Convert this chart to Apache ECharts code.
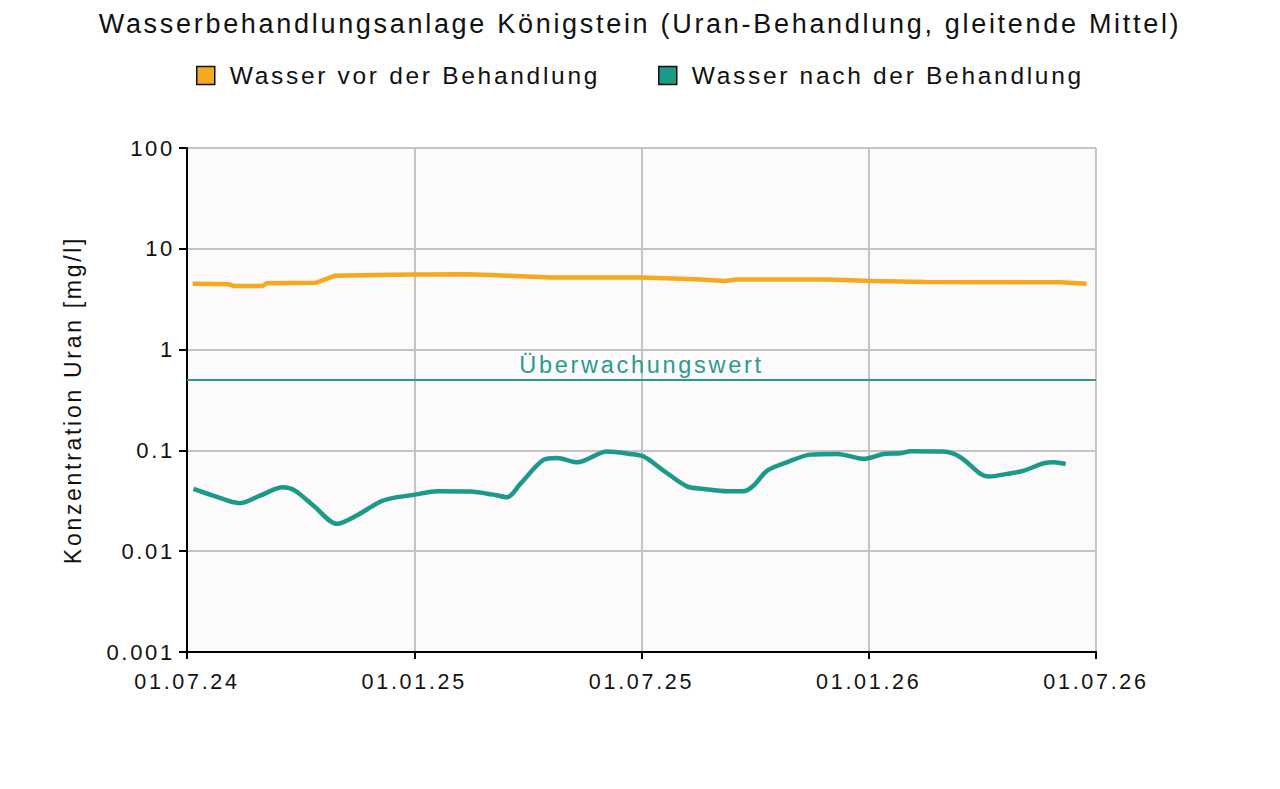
<!DOCTYPE html>
<html>
<head>
<meta charset="utf-8">
<script src="https://cdn.jsdelivr.net/npm/echarts@6/dist/echarts.min.js"></script>
<style>
html,body{margin:0;padding:0;background:#fff;}
#main{width:1280px;height:789px;}
#main text{letter-spacing:2.7px;}
</style>
</head>
<body>
<div id="main"></div>
<script>
// months since 01.07.24
const xTickLabels = ['01.07.24','01.01.25','01.07.25','01.01.26','01.07.26'];
const yTickLabels = {0.001:'0.001',0.01:'0.01',0.1:'0.1',1:'1',10:'10',100:'100'};
const seriesNames = ['Wasser vor der Behandlung','Wasser nach der Behandlung'];
const limitValue = 0.5;
const limitLabel = 'Überwachungswert';

const preMonths = [0.15,1.1,1.25,2.0,2.1,3.4,3.9,5.0,6.0,7.4,8.5,9.6,12.0,13.45,14.2,14.5,16.9,18.1,19.5,23.06,23.75];
const preValues = [4.49,4.45,4.27,4.27,4.55,4.6,5.4,5.5,5.55,5.6,5.4,5.2,5.2,5.0,4.8,4.95,4.95,4.8,4.68,4.65,4.5];

const postMonths = [0.17,0.69,1.40,1.93,2.54,2.85,3.34,3.96,4.48,5.10,5.45,6.02,6.60,7.48,8.09,8.45,8.80,9.41,9.77,10.30,11.09,11.70,12.06,12.58,13.20,13.64,14.26,14.70,14.96,15.32,15.84,16.46,17.17,17.87,18.40,18.84,19.10,19.98,20.42,20.95,21.17,21.66,22.10,22.62,22.89,23.20];
const postValues = [0.0415,0.0356,0.0299,0.0356,0.0430,0.0399,0.0283,0.0187,0.0226,0.0310,0.0338,0.0364,0.0393,0.0390,0.0364,0.0343,0.0465,0.0805,0.0843,0.0762,0.0973,0.0923,0.0868,0.0631,0.0440,0.0415,0.0393,0.0393,0.0448,0.0631,0.0762,0.0908,0.0923,0.0824,0.0923,0.0936,0.0980,0.0973,0.0855,0.0585,0.0550,0.0585,0.0631,0.0745,0.0762,0.0734];

const ORANGE = '#f6a81e';
const TEAL = '#1b9a8a';
const FONT = "'Liberation Sans', Arial, sans-serif";

const chart = echarts.init(document.getElementById('main'), null, {renderer:'svg'});
const txt = {fontFamily: FONT, color:'#111'};

chart.setOption({
  backgroundColor:'#ffffff',
  animation:false,
  title:{
    text:'Wasserbehandlungsanlage Königstein (Uran-Behandlung, gleitende Mittel)',
    left:'center', top:5,
    textStyle:Object.assign({}, txt, {fontSize:27, fontWeight:'normal'})
  },
  legend:[
    {data:[seriesNames[0]], left:191, top:58, icon:'rect', itemWidth:18, itemHeight:18,
     itemStyle:{borderColor:'#111', borderWidth:1.5},
     textStyle:Object.assign({}, txt, {fontSize:24.5, padding:[0,0,0,10]})},
    {data:[seriesNames[1]], left:653, top:58, icon:'rect', itemWidth:18, itemHeight:18,
     itemStyle:{borderColor:'#111', borderWidth:1.5},
     textStyle:Object.assign({}, txt, {fontSize:24.5, padding:[0,0,0,10]})}
  ],
  grid:{left:187, right:184, top:148, bottom:137, show:true, backgroundColor:'#fcfafa', borderWidth:0},
  xAxis:{
    type:'value', min:0, max:24, interval:6,
    axisLine:{show:true, onZero:false, lineStyle:{color:'#000', width:2}},
    axisTick:{show:true, length:7, lineStyle:{color:'#000', width:2}},
    axisLabel:{...txt, fontSize:21.5, margin:19, formatter:(v)=>xTickLabels[Math.round(v/6)]},
    splitLine:{show:true, lineStyle:{color:'#c4c4c4', width:2}}
  },
  yAxis:{
    type:'log', logBase:10, min:0.001, max:100,
    name:'Konzentration Uran [mg/l]', nameLocation:'middle', nameGap:103, nameRotate:90,
    nameTextStyle:{...txt, fontSize:23},
    axisLine:{show:true, lineStyle:{color:'#000', width:2}},
    axisTick:{show:true, length:8, lineStyle:{color:'#000', width:2}},
    axisLabel:{...txt, fontSize:22, margin:12, formatter:(v)=>{
      const k = Object.keys(yTickLabels).find(t=>Math.abs(Math.log10(+t)-Math.log10(v))<1e-6);
      return k!==undefined ? yTickLabels[k] : '';
    }},
    splitLine:{show:true, lineStyle:{color:'#c4c4c4', width:2}}
  },
  series:[
    {name:seriesNames[0], type:'line', showSymbol:false, color:ORANGE,
     lineStyle:{color:ORANGE, width:4.5},
     data:preMonths.map((m,i)=>[m, preValues[i]])},
    {name:seriesNames[1], type:'line', showSymbol:false, color:TEAL, smooth:0.3,
     lineStyle:{color:TEAL, width:4.5},
     data:postMonths.map((m,i)=>[m, postValues[i]]),
     markLine:{silent:true, symbol:'none',
       lineStyle:{color:'#2a9c8c', width:2, type:'solid'},
       label:{show:true, position:'middle', formatter:limitLabel, fontFamily:FONT, fontSize:23.5, color:'#2a9c8c', distance:3},
       data:[{yAxis:limitValue}]}}
  ]
});
</script>
</body>
</html>
